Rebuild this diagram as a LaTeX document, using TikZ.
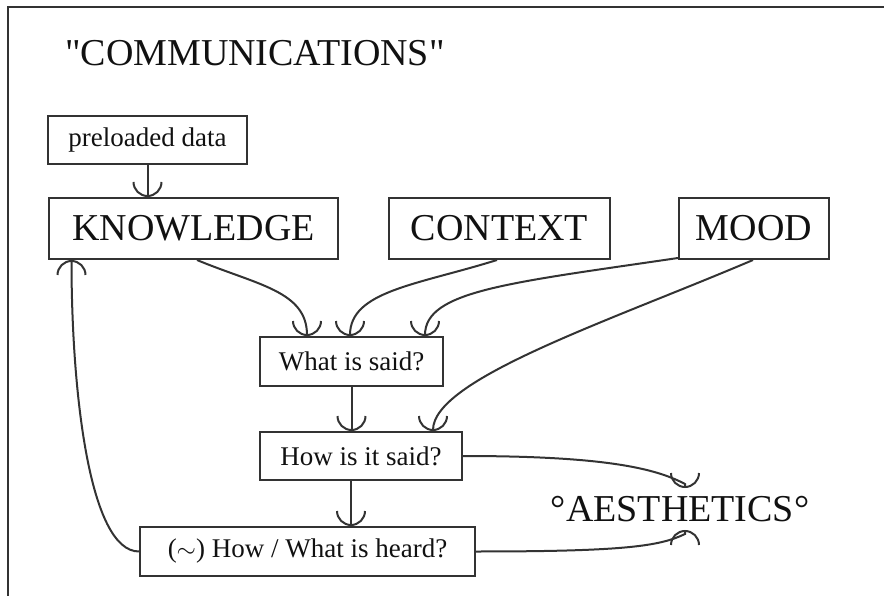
\documentclass[tikz,border=0pt]{standalone}
\usepackage{fontspec}
\setmainfont{Liberation Serif}
\newfontfamily\titlefont{Liberation Serif}
\usetikzlibrary{arrows.meta}
\definecolor{linec}{HTML}{333333}
\definecolor{txtc}{HTML}{111111}
\begin{document}
\begin{tikzpicture}[x=1pt,y=-1pt,
  box/.style={draw=linec, line width=2pt, inner sep=0pt, text=txtc, anchor=center},
  big/.style={font=\fontsize{38}{40}\selectfont},
  small/.style={font=\fontsize{27}{30}\selectfont},
  conn/.style={draw=linec, line width=2pt, -{Arc Barb[length=15pt,width=30pt]}},
]
\useasboundingbox (0,0) rectangle (884,596);
\draw[linec, line width=2.5pt] (8,596) -- (8,7) -- (884,7);
\node[anchor=base west, font=\titlefont\fontsize{38}{40}\selectfont, text=txtc, inner sep=0pt] (title) at (65,66) {"COMMUNICATIONS"};
\node[box, small, minimum width=199pt, minimum height=48pt] (pre) at (147.5,140) {preloaded data};
\node[box, big, minimum width=289pt, minimum height=61pt] (know) at (193.5,228.5) {KNOWLEDGE};
\node[box, big, minimum width=221pt, minimum height=61pt] (ctx) at (499.5,228.5) {CONTEXT};
\node[box, big, minimum width=150pt, minimum height=61pt] (mood) at (754,228.5) {MOOD};
\node[box, small, minimum width=183pt, minimum height=49pt] (said) at (351.5,361.5) {What is said?};
\node[box, small, minimum width=202pt, minimum height=48pt] (how) at (361,456) {How is it said?};
\node[box, small, minimum width=335pt, minimum height=49pt] (heard) at (307.5,551.5) {($\sim$) How / What is heard?};
\node[anchor=base, big, text=txtc, inner sep=0pt] (aes) at (680,521) {°AESTHETICS°};
\coordinate (aesT) at (685,488);
\coordinate (aesB) at (685,530);
% arrows
\draw[conn] (pre.south) -- (pre.south |- know.north);
\draw[conn] ([xshift=3.5pt]know.south) .. controls +(60,25) and +(0,-45) .. ([xshift=-44.5pt]said.north);
\draw[conn] ([xshift=-2.5pt]ctx.south) .. controls +(-80,25) and +(0,-45) .. ([xshift=-1.5pt]said.north);
\draw[conn] ([yshift=2pt]mood.south west) .. controls +(-170,25) and +(0,-45) .. ([xshift=73.5pt]said.north);
\draw[conn] ([xshift=-1pt]mood.south) .. controls +(-143,61) and +(0,-52) .. ([xshift=72pt]how.north);
\draw[conn] (said.south) -- (said.south |- how.north);
\draw[conn] ([xshift=-10pt]how.south) -- ([xshift=-10pt]how.south |- heard.north);
\draw[conn] (how.east) .. controls +(140,0) and +(-30,-16) .. ([yshift=4pt]aesT) -- (aesT);
\draw[conn] (heard.east) .. controls +(150,0) and +(-25,12) .. ([yshift=-4pt]aesB) -- (aesB);
\draw[conn] (heard.west) .. controls +(-50,0) and +(0,130) .. ([xshift=-122pt]know.south);
\end{tikzpicture}
\end{document}
